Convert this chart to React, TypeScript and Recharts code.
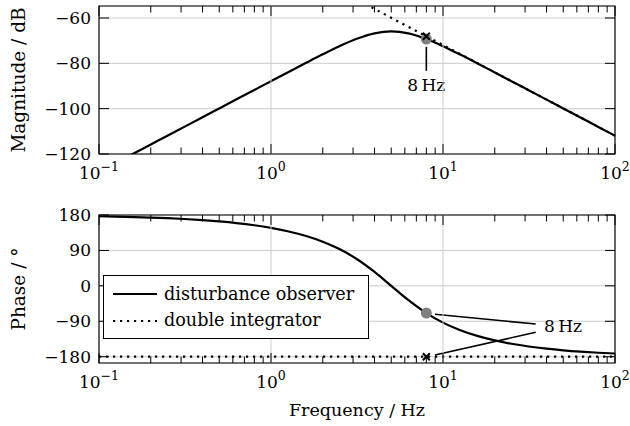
import { CartesianGrid, Legend, Line, LineChart, ReferenceArea, ReferenceDot, ReferenceLine, XAxis, YAxis } from 'recharts';

// frequencies in Hz
const freqs = [
  0.1, 0.125, 0.16, 0.2, 0.25, 0.315, 0.4, 0.5, 0.63, 0.8,
  1, 1.25, 1.6, 2, 2.5, 3.15, 4, 5, 6.3, 8,
  10, 12.5, 16, 20, 25, 31.5, 40, 50, 63, 80, 100,
];

// magnitude in dB
const obsMag = [
  -127.85, -123.97, -119.69, -115.81, -111.93, -107.92, -103.77, -99.89, -95.87, -91.74,
  -87.86, -84.0, -79.78, -76.03, -72.46, -69.19, -66.75, -65.91, -66.8, -69.29,
  -72.46, -76.03, -80.17, -84.01, -87.86, -91.87, -96.02, -99.89, -103.9, -108.06, -111.93,
];
const intMag = [
  8.07, 4.19, -0.09, -3.97, -7.85, -11.86, -16.01, -19.89, -23.9, -28.05,
  -31.93, -35.81, -40.09, -43.97, -47.85, -51.86, -56.01, -59.89, -63.9, -68.05,
  -71.93, -75.81, -80.09, -83.97, -87.85, -91.86, -96.01, -99.89, -103.9, -108.05, -111.93,
];

// phase in degrees
const obsPhase = [
  176.8, 175.9, 174.8, 173.5, 171.9, 169.8, 167.0, 163.7, 159.5, 153.9,
  147.2, 138.7, 126.5, 112.1, 93.4, 68.2, 35.3, 0, -36.5, -69.2,
  -93.4, -112.1, -127.8, -138.7, -147.2, -154.1, -159.6, -163.7, -167.1, -169.9, -171.9,
];
const intPhaseFreqs = [0.1, 100];
const intPhase = [-180, -180];

const xTicks = [
  0.1, 0.2, 0.3, 0.4, 0.5, 0.6, 0.7, 0.8, 0.9,
  1, 2, 3, 4, 5, 6, 7, 8, 9,
  10, 20, 30, 40, 50, 60, 70, 80, 90, 100,
];
const majorTicks = [0.1, 1, 10, 100];
const exponents = ['\u22121', '0', '1', '2'];
const magTicks = [-120, -100, -80, -60];
const phaseTicks = [-180, -90, 0, 90, 180];
const seriesNames = ['disturbance observer', 'double integrator'];

const markFreq = 8;

const magRows = freqs.map((f, i) => ({ f, obs: obsMag[i], int: intMag[i] }));
const phaseRows = freqs.map((f, i) => ({ f, obs: obsPhase[i] }));
const intPhaseRows = intPhaseFreqs.map((f, i) => ({ f, int: intPhase[i] }));

const FONT = 'DejaVu Serif';
const GRID = '#cccccc';
const LEFT = 99;
const RIGHT = 615;
const DOTS = '2.2 4.8';

const fmt = (v: number) => (v < 0 ? '\u2212' + Math.abs(v) : String(v));

const makeXTick = (top: number, bottom: number) => (props: any) => {
  const { x, payload } = props;
  const idx = majorTicks.indexOf(payload.value);
  const major = idx >= 0;
  const len = major ? 10 : 6.5;
  return (
    <g>
      {major && idx > 0 && idx < 3 && <line x1={x} x2={x} y1={top} y2={bottom} stroke={GRID} strokeWidth={1} />}
      <line x1={x} x2={x} y1={bottom} y2={bottom - len} stroke="#000" strokeWidth={1} />
      <line x1={x} x2={x} y1={top} y2={top + len} stroke="#000" strokeWidth={1} />
      {major && (
        <text x={x} y={bottom + 25} textAnchor="middle" fontFamily={FONT} fontSize={17} fill="#000">
          10<tspan dy={-8} fontSize={12.5}>{exponents[idx]}</tspan>
        </text>
      )}
    </g>
  );
};

const YTick = (props: any) => {
  const { y, payload } = props;
  return (
    <g>
      <line x1={LEFT} x2={LEFT + 10} y1={y} y2={y} stroke="#000" strokeWidth={1} />
      <line x1={RIGHT} x2={RIGHT - 10} y1={y} y2={y} stroke="#000" strokeWidth={1} />
      <text x={91} y={y} dy={6} textAnchor="end" fontFamily={FONT} fontSize={17} fill="#000">
        {fmt(payload.value)}
      </text>
    </g>
  );
};

const Cross = (props: any) => {
  const { cx, cy } = props;
  return (
    <path
      d={`M${cx - 3.5},${cy - 3.5}L${cx + 3.5},${cy + 3.5}M${cx + 3.5},${cy - 3.5}L${cx - 3.5},${cy + 3.5}`}
      stroke="#000"
      strokeWidth={2}
      fill="none"
    />
  );
};

const makeNote = (anchor: 'start' | 'middle') => (props: any) => (
  <text x={props.cx} y={props.cy} textAnchor={anchor} fontFamily={FONT} fontSize={17} fill="#000">
    8{'\u2009'}Hz
  </text>
);

const renderLegend = () => (
  <svg width={266} height={64} style={{ display: 'block' }}>
    <rect x={0.5} y={0.5} width={265} height={63} fill="#fff" stroke="#000" strokeWidth={1} />
    <line x1={10} x2={54} y1={19} y2={19} stroke="#000" strokeWidth={2.2} />
    <text x={61} y={24.5} fontFamily={FONT} fontSize={17.6} fill="#000">{seriesNames[0]}</text>
    <line x1={10} x2={54} y1={46} y2={46} stroke="#000" strokeWidth={2.2} strokeDasharray={DOTS} />
    <text x={61} y={51} fontFamily={FONT} fontSize={17.6} fill="#000">{seriesNames[1]}</text>
  </svg>
);

const axisLabel = { fontFamily: FONT, fontSize: 17.5, fill: '#000' };
const sideLabel = { fontFamily: FONT, fontSize: 18.5, fill: '#000' };

export default function App() {
  const magDomain: [number, number] = [-120, -54.7];
  const phaseDomain: [number, number] = [-196, 180];
  return (
    <div style={{ position: 'absolute', left: 0, top: 0, width: 630, height: 426, background: '#fff', fontFamily: FONT }}>
      <div style={{ position: 'absolute', left: 0, top: 0 }}>
        <LineChart width={630} height={200} data={magRows} margin={{ top: 6, right: 15, bottom: 0, left: 5 }}>
          <CartesianGrid vertical={false} stroke={GRID} strokeDasharray="" />
          <XAxis
            dataKey="f"
            type="number"
            scale="log"
            domain={[0.1, 100]}
            ticks={xTicks}
            interval={0}
            height={46}
            tickSize={0}
            tickMargin={0}
            axisLine={false}
            tickLine={false}
            tick={makeXTick(6, 154)}
          />
          <YAxis
            type="number"
            domain={magDomain}
            allowDataOverflow
            ticks={magTicks}
            interval={0}
            width={94}
            axisLine={false}
            tickLine={false}
            tick={YTick}
            label={{ value: 'Magnitude / dB', angle: -90, position: 'insideLeft', offset: 13, style: { textAnchor: 'middle' }, ...sideLabel }}
          />
          <Line dataKey="int" name={seriesNames[1]} type="linear" stroke="#000" strokeWidth={2.2} strokeDasharray={DOTS} dot={false} isAnimationActive={false} />
          <Line dataKey="obs" name={seriesNames[0]} type="monotone" stroke="#000" strokeWidth={2.2} dot={false} isAnimationActive={false} />
          <ReferenceArea x1={0.1} x2={100} y1={magDomain[0]} y2={magDomain[1]} fill="none" stroke="#000" strokeWidth={1.2} />
          <ReferenceLine segment={[{ x: markFreq, y: -72.7 }, { x: markFreq, y: -83.3 }]} stroke="#000" strokeWidth={1.6} />
          <ReferenceDot x={markFreq} y={-69.29} r={5.5} fill="#808080" stroke="none" />
          <ReferenceDot x={markFreq} y={-68.05} r={4} shape={Cross} />
          <ReferenceDot x={markFreq} y={-92.1} r={1} shape={makeNote('middle')} />
        </LineChart>
      </div>
      <div style={{ position: 'absolute', left: 0, top: 200 }}>
        <LineChart width={630} height={226} data={phaseRows} margin={{ top: 15, right: 15, bottom: 0, left: 5 }}>
          <CartesianGrid vertical={false} stroke={GRID} strokeDasharray="" />
          <XAxis
            dataKey="f"
            type="number"
            scale="log"
            domain={[0.1, 100]}
            ticks={xTicks}
            interval={0}
            height={63}
            tickSize={0}
            tickMargin={0}
            axisLine={false}
            tickLine={false}
            tick={makeXTick(15, 163)}
            label={{ value: 'Frequency / Hz', position: 'insideBottom', offset: 10, ...axisLabel }}
          />
          <YAxis
            type="number"
            domain={phaseDomain}
            allowDataOverflow
            ticks={phaseTicks}
            interval={0}
            width={94}
            axisLine={false}
            tickLine={false}
            tick={YTick}
            label={{ value: 'Phase / \u00b0', angle: -90, position: 'insideLeft', offset: 13, style: { textAnchor: 'middle' }, ...sideLabel }}
          />
          <Line data={intPhaseRows} dataKey="int" name={seriesNames[1]} type="linear" stroke="#000" strokeWidth={2.2} strokeDasharray={DOTS} dot={false} isAnimationActive={false} />
          <Line dataKey="obs" name={seriesNames[0]} type="monotone" stroke="#000" strokeWidth={2.2} dot={false} isAnimationActive={false} />
          <ReferenceArea x1={0.1} x2={100} y1={phaseDomain[0]} y2={phaseDomain[1]} fill="none" stroke="#000" strokeWidth={1.2} />
          <ReferenceLine segment={[{ x: 8.98, y: -72.3 }, { x: 34.6, y: -96.9 }]} stroke="#000" strokeWidth={1.6} />
          <ReferenceLine segment={[{ x: 8.98, y: -175.7 }, { x: 34.6, y: -118 }]} stroke="#000" strokeWidth={1.6} />
          <ReferenceDot x={markFreq} y={-69.2} r={5.5} fill="#808080" stroke="none" />
          <ReferenceDot x={markFreq} y={-180} r={4} shape={Cross} />
          <ReferenceDot x={38.6} y={-116.5} r={1} shape={makeNote('start')} />
          <Legend
            layout="horizontal"
            verticalAlign="middle"
            align="center"
            content={renderLegend}
            wrapperStyle={{ left: 103, top: 75, width: 266, height: 64 }}
          />
        </LineChart>
      </div>
    </div>
  );
}
